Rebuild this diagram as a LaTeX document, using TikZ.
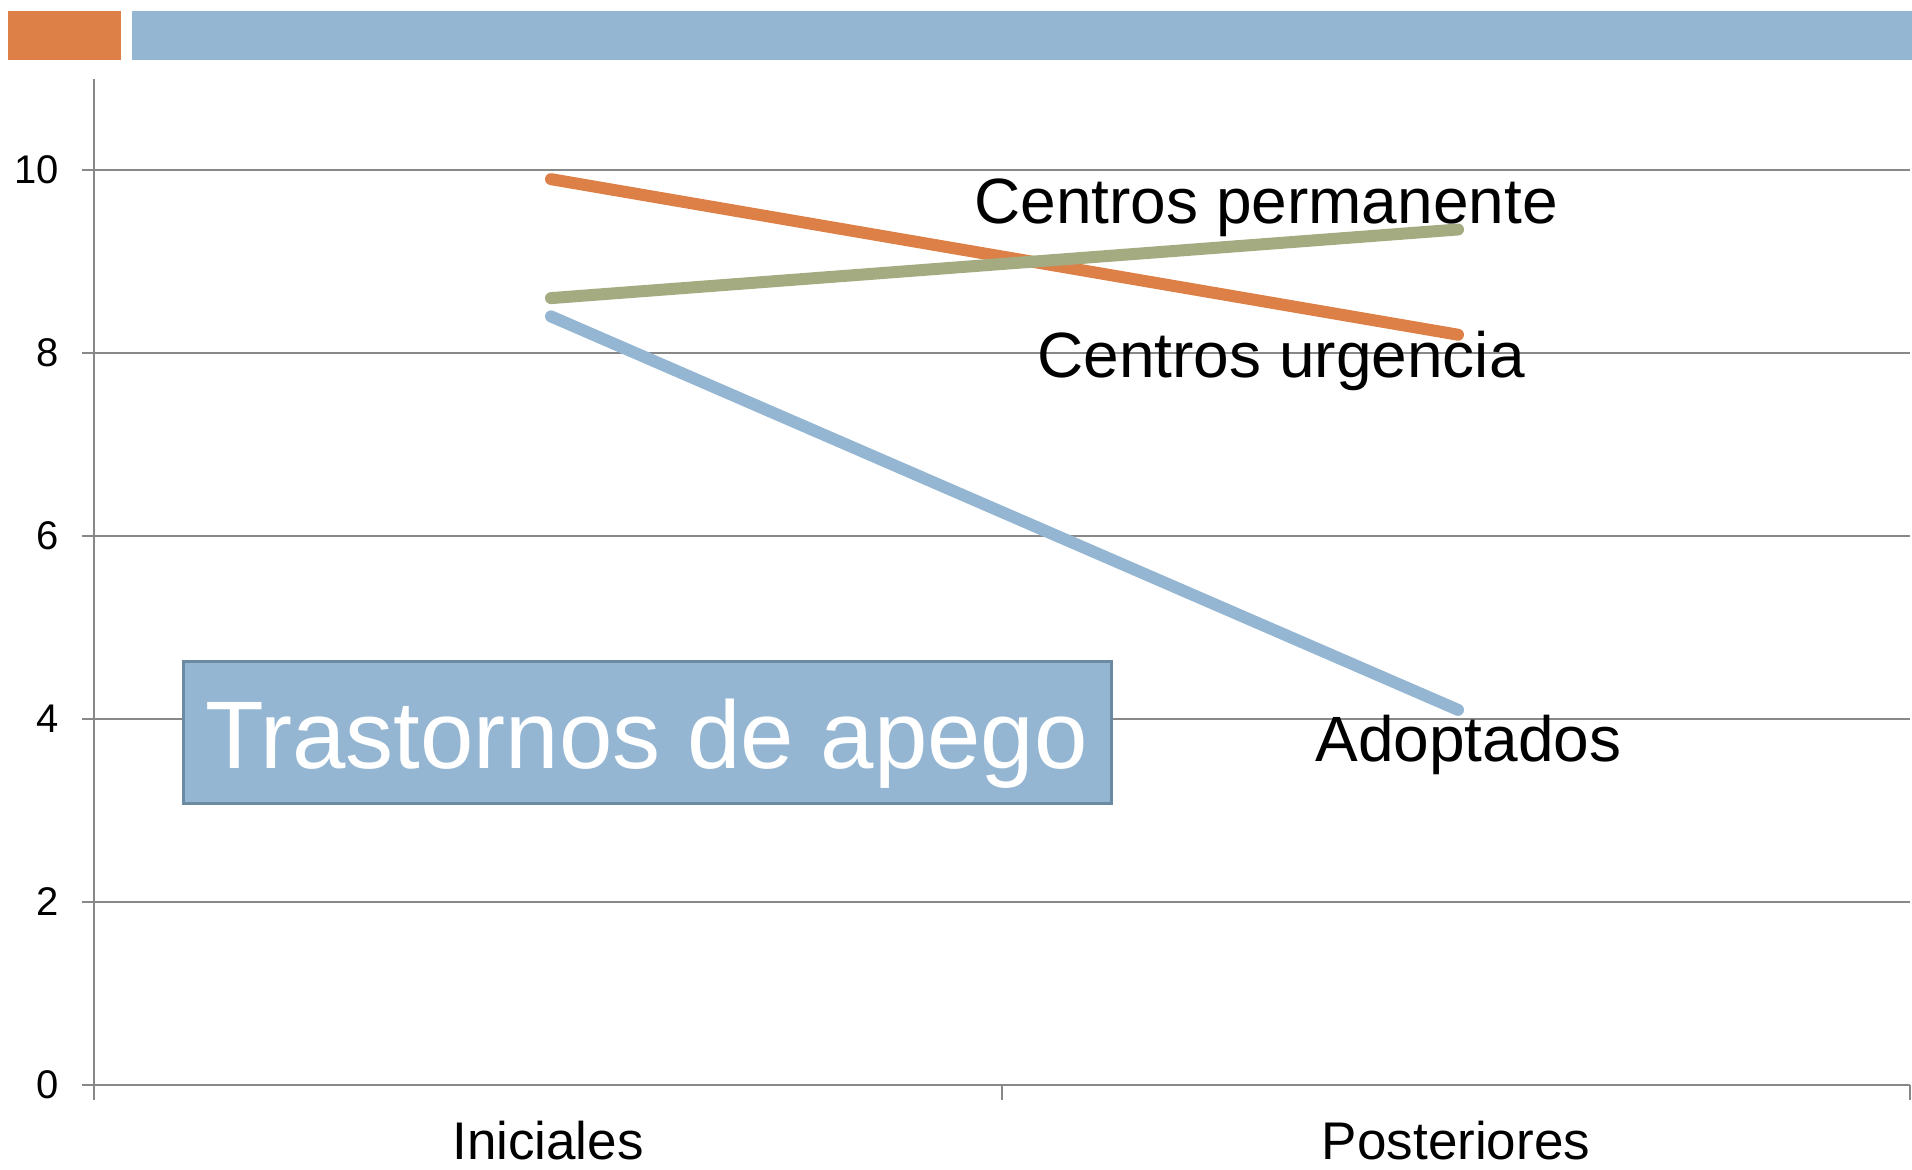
\documentclass[tikz,border=0pt]{standalone}
\usepackage{fontspec}
\setmainfont{Liberation Sans}
\definecolor{cOrange}{HTML}{DD8047}
\definecolor{cBlue}{HTML}{94B6D2}
\definecolor{cGreen}{HTML}{A5AB81}
\definecolor{cGrid}{HTML}{888888}
\definecolor{cBorder}{HTML}{6C8AA2}
\begin{document}
\begin{tikzpicture}[x=0.5pt,y=-0.5pt,
  grid/.style={draw=cGrid,line width=1pt},
  series/.style={line width=6pt,line cap=round},
  ticklabel/.style={inner sep=0pt,anchor=east,font=\fontsize{20}{23}\selectfont},
  catlabel/.style={inner sep=0pt,anchor=base,font=\fontsize{26.5}{31}\selectfont},
  serlabel/.style={inner sep=0pt,anchor=base west,font=\fontsize{32}{38}\selectfont},
]
\useasboundingbox (0,0) rectangle (1912,1169);
% header bars
\fill[cOrange] (8,11) rectangle (121,60);
\fill[cBlue] (132,11) rectangle (1912,60);
% gridlines
\foreach \v/\lab in {0/0,2/2,4/4,6/6,8/8,10/10}{
  \draw[grid] (82,{1085-91.5*\v}) -- (1910,{1085-91.5*\v});
  \node[ticklabel] (t\v) at (59,{1085-91.5*\v}) {\lab};
}
% axes
\draw[grid] (94,79) -- (94,1100);
\draw[grid] (1002,1085) -- (1002,1100);
\draw[grid] (1910,1085) -- (1910,1100);
% category labels
\node[catlabel] (cini) at (548,1159) {Iniciales};
\node[catlabel] (cpos) at (1456,1159) {Posteriores};
% data points
\coordinate (a1) at (551,{1085-91.5*8.4});
\coordinate (a2) at (1458,{1085-91.5*4.1});
\coordinate (u1) at (551,{1085-91.5*9.9});
\coordinate (u2) at (1458,{1085-91.5*8.2});
\coordinate (p1) at (551,{1085-91.5*8.6});
\coordinate (p2) at (1458,{1085-91.5*9.35});
\draw[series,cBlue] (a1) -- (a2);
\draw[series,cOrange] (u1) -- (u2);
\draw[series,cGreen] (p1) -- (p2);
% series labels
\node[serlabel] (lperm) at (974,223) {Centros permanente};
\node[serlabel] (lurg) at (1037,377) {Centros urgencia};
\node[serlabel] (ladop) at (1315,761) {Adoptados};
% title box
\draw[fill=cBlue,draw=cBorder,line width=1.5pt] (183,661) rectangle (1111,803);
\node[inner sep=0pt,anchor=base west,text=white,font=\fontsize{48}{56}\selectfont] (title) at (205,768) {Trastornos de apego};
\end{tikzpicture}
\end{document}
